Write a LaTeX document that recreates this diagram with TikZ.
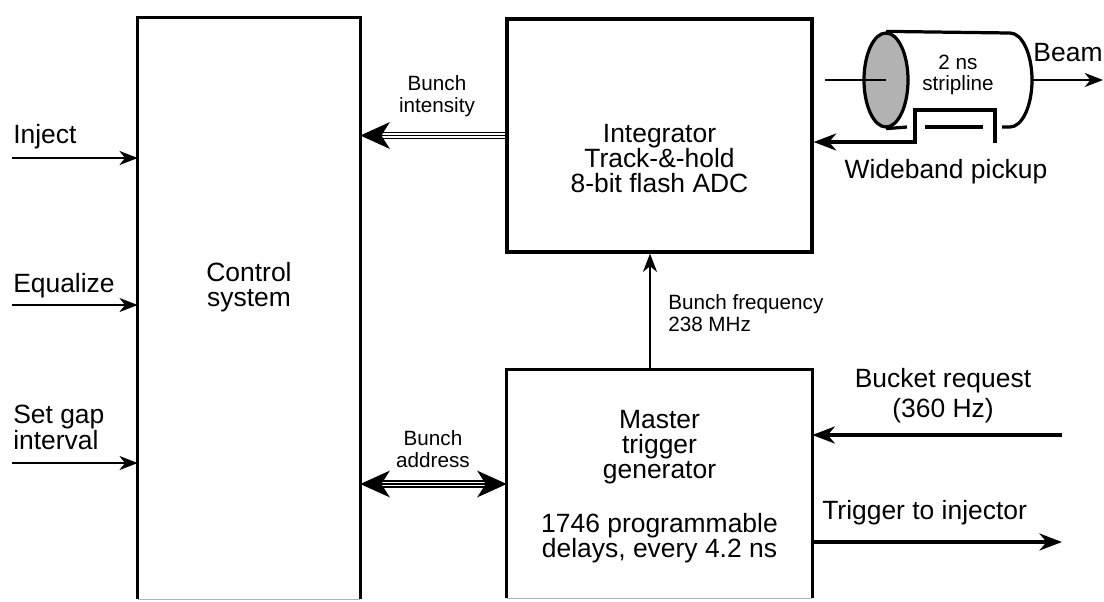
\documentclass[tikz,border=0pt]{standalone}
\usepackage{fontspec}
\setmainfont{Liberation Sans}
\usetikzlibrary{arrows.meta}
\usetikzlibrary{shapes.geometric}

\newcommand{\bigtxt}{\fontsize{18.8}{17}\selectfont}
\newcommand{\boxtxt}{\fontsize{18.8}{17.6}\selectfont}
\newcommand{\smalltxt}{\fontsize{14.7}{15.5}\selectfont}

\begin{document}
\begin{tikzpicture}[
  wall/.style={line width=2.3pt},
  rim/.style={gray!60,line width=0.8pt},
  txt/.style={align=center,font=\bigtxt,inner sep=0pt},
  intxt/.style={align=center,font=\boxtxt,inner sep=0pt},
  lbl/.style={align=center,font=\smalltxt,inner sep=0pt},
  sig/.style={line width=1.3pt,-{Stealth[length=13pt,width=10pt,inset=4pt]}},
  fat/.style={line width=3pt,-{Stealth[length=16pt,width=12pt,inset=5pt]}},
  bus/.style={line width=0.9pt,double distance=3.4pt},
  bustip/.style={line width=0.9pt,-{Stealth[length=21pt,width=19pt,inset=6pt]}},
  busboth/.style={line width=0.9pt,{Stealth[length=21pt,width=19pt,inset=6pt]}-{Stealth[length=21pt,width=19pt,inset=6pt]}}]
\useasboundingbox (0,0) rectangle (27.6,-15.025);

%boxes
\path (6.225,-7.7125) node(ctrl)[minimum width=5.55cm,minimum height=14.525cm,inner sep=0pt]{}
(16.4875,-3.3875) node(integ)[draw,wall,minimum width=7.625cm,minimum height=5.825cm,inner sep=0pt]{}
(16.4875,-12.1) node(master)[minimum width=7.625cm,minimum height=5.7cm,inner sep=0pt]{};
\draw[wall](ctrl.south west)|-(ctrl.north east)--(ctrl.south east);
\draw[rim](ctrl.south west)--(ctrl.south east);
\draw[wall](master.south west)|-(master.north east)--(master.south east);
\draw[rim](master.south west)--(master.south east);

\path (6.225,-7.18) node(ctrltxt)[intxt]{Control\\system}
(16.4875,-3.96) node(integtxt)[intxt]{Integrator\\Track-\&-hold\\8-bit flash ADC}
(16.4875,-12.16) node(mastertxt)[intxt]{Master\\trigger\\generator\\[21pt]1746 programmable\\delays, every 4.2 ns};

%inputs on the left
\coordinate (inj) at (0.3,-3.95);
\coordinate (eql) at (0.3,-7.625);
\coordinate (gap) at (0.3,-11.575);
\path (0.325,-3.575) node(injtxt)[txt,anchor=base west]{Inject}
(0.325,-7.3) node(eqltxt)[txt,anchor=base west]{Equalize}
(0.325,-10.125) node(gaptxt)[txt,anchor=north west,align=left]{Set gap\\interval};
\draw[sig](inj)--(inj-|ctrl.west);
\draw[sig](eql)--(eql-|ctrl.west);
\draw[sig](gap)--(gap-|ctrl.west);

%buses between the boxes
\draw[bus,shorten >=10pt](integ.west)--(integ.west-|ctrl.east);
\draw[bustip](integ.west)--(integ.west-|ctrl.east);
\draw[bus,shorten >=10pt,shorten <=10pt](ctrl.east|-master.west)--(master.west);
\draw[busboth](ctrl.east|-master.west)--(master.west);
\path (10.925,-2.4) node(intens)[lbl]{Bunch\\intensity}
(10.825,-11.22) node(addr)[lbl]{Bunch\\address};

\draw[sig]([xshift=-0.2375cm]master.north)--([xshift=-0.2375cm]integ.south);
\path (16.7,-7.825) node(freq)[lbl,anchor=west,align=left]{Bunch frequency\\238 MHz};

%right side
\coordinate (bkt) at (26.55,-10.875);
\coordinate (trg) at (26.55,-13.55);
\draw[fat](bkt)--(bkt-|master.east);
\draw[fat](trg-|master.east)--(trg);
\path (23.575,-9.9) node(bkttxt)[txt]{Bucket request\\[3pt](360 Hz)}
(20.55,-12.825) node(trgtxt)[txt,anchor=west]{Trigger to injector};

%stripline pickup
\path (22.15,-2.0) node(pu)[ellipse,draw,wall,fill=gray!60,minimum width=1.1cm,minimum height=2.35cm,inner sep=0pt]{};
\draw[wall](pu.north)--(25.25,-0.825) arc(90:-90:0.55 and 1.175)--(25.05,-3.175);
\draw[wall](pu.south)--(22.675,-3.175);
\draw[wall](23.125,-3.175)--(24.575,-3.175);
\coordinate (bin) at (20.625,-2.0);
\coordinate (cylend) at (25.8,-2.0);
\coordinate (bout) at (27.575,-2.0);
\coordinate (sp) at (24.875,-3.575);
\draw[line width=1.3pt](bin)--(pu.center);
\draw[sig](cylend)--(bout);
\draw[fat](sp)|-(22.875,-2.75)|-([yshift=-0.1625cm]integ.east);
\path (23.95,-1.875) node(striptxt)[lbl]{2 ns\\stripline}
(26.7,-1.325) node(beamtxt)[txt]{Beam}
(23.65,-4.3) node(wbtxt)[txt]{Wideband pickup};
\end{tikzpicture}
\end{document}
